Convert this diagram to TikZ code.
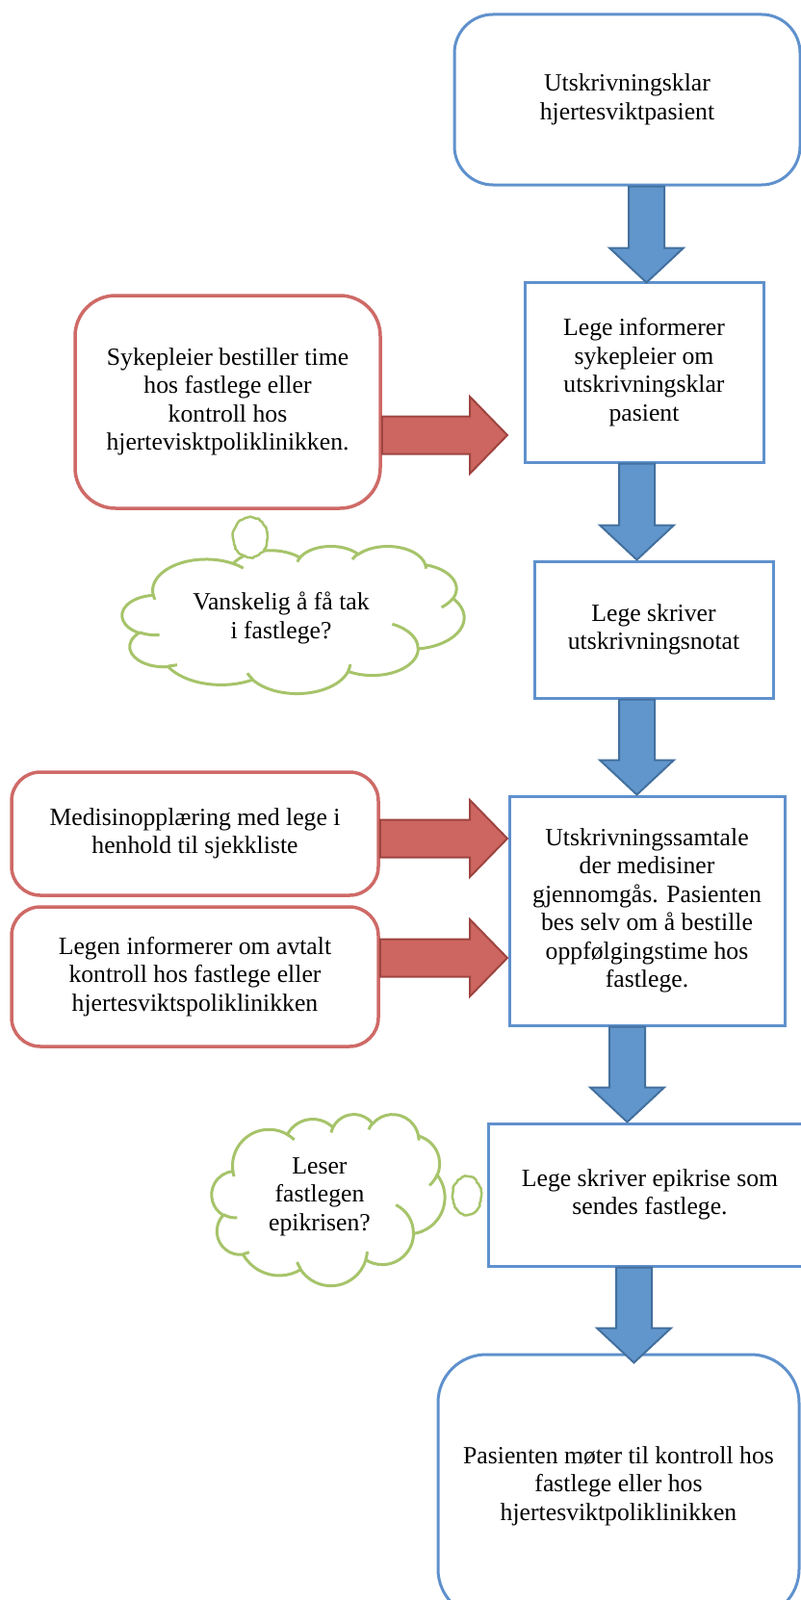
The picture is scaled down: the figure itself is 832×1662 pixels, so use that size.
\documentclass[tikz,border=0pt]{standalone}
\usepackage{fontspec}
\setmainfont{Liberation Serif}
\usetikzlibrary{calc,shapes.geometric,decorations.pathmorphing}
\definecolor{bline}{HTML}{5F91CD}
\definecolor{bfill}{HTML}{6196CC}
\definecolor{bdark}{HTML}{43709E}
\definecolor{rline}{HTML}{CE6A67}
\definecolor{rfill}{HTML}{CD6660}
\definecolor{rdark}{HTML}{9E4440}
\definecolor{gline}{HTML}{A6C46A}

% ---- Office-style cloud outline (arcs given with visual angles) ----
\newcommand\cldcalc[4]{%
  \pgfmathsetmacro\cldA{atan2((#1)*sin(#3),(#2)*cos(#3))}%
  \pgfmathsetmacro\cldB{atan2((#1)*sin((#3)+(#4)),(#2)*cos((#3)+(#4)))}%
  \pgfmathsetmacro\cldD{\cldB-\cldA}%
  \pgfmathsetmacro\cldD{\cldD-360*round((\cldD-(#4))/360)}%
}
\newcommand\cldarc[4]{\cldcalc{#1}{#2}{#3}{#4}%
  \pgfmathsetmacro\cldRX{(#1)*\csx}\pgfmathsetmacro\cldRY{(#2)*\csy}%
  \pgfmathsetmacro\cldA{0-(\cldA)}\pgfmathsetmacro\cldD{0-(\cldD)}%
  \xdef\cldtmp{ arc[start angle=\cldA, delta angle=\cldD, x radius=\cldRX pt, y radius=\cldRY pt]}}
\newcommand\cldpt[2]{\pgfmathsetmacro\cldPX{\cox+(#1)*\csx}\pgfmathsetmacro\cldPY{\coy-(#2)*\csy}%
  \xdef\cldtmp{ (\cldPX,\cldPY)}}
\newcommand\cldM[4]{\cldarc{#1}{#2}{#3}{#4}\xdef\cldpath{\cldpath\cldtmp}}
% a crease is drawn at once, as its own path
\newcommand\cldC[6]{\cldpt{#1}{#2}\let\cldstart\cldtmp\cldarc{#3}{#4}{#5}{#6}%
  \edef\cldline{\noexpand\draw[cloudline] \cldstart \cldtmp;}\cldline}
\newcommand\cldinit[4]{%
  \pgfmathsetmacro\cox{#1}\pgfmathsetmacro\coy{#2}%
  \pgfmathsetmacro\csx{(#3)/432}\pgfmathsetmacro\csy{(#4)/432}}
\newcommand\buildcloud[4]{%
  \cldinit{#1}{#2}{#3}{#4}%
  \cldpt{39}{143.7}\xdef\cldpath{\cldtmp}%
  \cldM{67.53}{91.90}{-190.48748}{123.78053}%
  \cldM{53.33}{72.67}{-144.10238}{89.94523}%
  \cldM{43.65}{59.45}{-145.80792}{99.72302}%
  \cldM{48.57}{65.95}{-130.98607}{117.24173}%
  \cldM{53.33}{72.73}{-78.70888}{109.02692}%
  \cldM{67.75}{92.20}{-46.26725}{130.269}%
  \cldM{57.85}{78.67}{0.62502}{114.03333}%
  \cldM{67.52}{92.15}{22.4516}{115.17255}%
  \cldM{77.20}{105.43}{66.24263}{75.71102}%
  \cldM{43.60}{59.18}{-274.94208}{146.73557}%
  \cldM{43.45}{59.45}{-246.8285}{152.51885}%
}
\newcommand\cloudcreases{%
  \cldC{46.93}{261.77}{43.45}{59.45}{86.742}{26.4295}%
  \cldC{69.28}{348.99}{43.60}{59.18}{73.61047}{11.44747}%
  \cldC{164.78}{390.90}{67.52}{92.15}{137.62415}{14.0811}%
  \cldC{288.27}{347.51}{67.52}{92.15}{6.45327}{15.99835}%
  \cldC{341.29}{229.54}{57.85}{78.67}{-70.29235}{70.91737}%
  \cldC{417.98}{153.54}{53.33}{72.73}{30.31803}{27.7515}%
  \cldC{383.24}{54.26}{48.57}{65.95}{-13.74433}{14.8589}%
  \cldC{290.78}{39.52}{48.57}{65.95}{-149.18145}{18.19537}%
  \cldC{221.41}{47.20}{43.65}{59.45}{-163.49427}{17.68635}%
  \cldC{140.00}{51.92}{67.53}{91.90}{-66.70695}{12.31935}%
  \cldC{41.27}{157.89}{67.53}{91.90}{157.65435}{11.85817}%
}

% ---- block arrows between named nodes ----
\newcommand\blkdown[4]{% from node, to node, axis x, tip overlap
  \coordinate (ax) at (#3,0);
  \coordinate (bs) at (ax |- #1.south);
  \coordinate (btn) at (ax |- #2.north);
  \coordinate (bt) at ($(btn)+(0,-#4)$);
  \draw[bluearrow] ($(bs)+(-18.5,0)$) -- ($(bs)+(18.5,0)$) -- ($(bt)+(18.5,36)$)
    -- ($(bt)+(38.5,36)$) -- (bt) -- ($(bt)+(-38.5,36)$) -- ($(bt)+(-18.5,36)$) -- cycle;}
\newcommand\blkright[2]{% from node, tip coordinate
  \coordinate (rs) at (#1.east |- #2);
  \draw[redarrow] ($(rs)+(0,19.5)$) -- ($(#2)+(-39,19.5)$) -- ($(#2)+(-39,40)$) -- (#2)
    -- ($(#2)+(-39,-40)$) -- ($(#2)+(-39,-19.5)$) -- ($(rs)+(0,-19.5)$) -- cycle;}

\tikzset{
  txt/.style={font=\fontsize{25.7}{29.5}\selectfont, align=center, inner sep=0pt},
  bluebox/.style={txt, draw=bline, line width=3pt, fill=white},
  redbox/.style={txt, draw=rline, line width=3.5pt, fill=white},
  bluearrow/.style={fill=bfill, draw=bdark, line width=2pt, line join=miter},
  redarrow/.style={fill=rfill, draw=rdark, line width=2pt, line join=miter},
  cloudline/.style={draw=gline, line width=3pt},
  bubble/.style={ellipse, draw=gline, line width=2.5pt, fill=white, inner sep=0pt,
    decorate, decoration={random steps, segment length=2.5pt, amplitude=0.7pt}},
}

\begin{document}
\begin{tikzpicture}[x=1pt,y=1pt]
\useasboundingbox (0,0) rectangle (832,-1662);
\clip (0,0) rectangle (832,-1662);
\fill[white] (0,0) rectangle (832,-1662);

% blue flow boxes
\node[bluebox, rounded corners=40pt, minimum width=359pt, minimum height=177pt] (b1) at (651.5,-103.5)
  {Utskrivningsklar\\hjertesviktpasient};
\node[bluebox, minimum width=248pt, minimum height=187pt] (b2) at (669,-386.5)
  {Lege informerer\\sykepleier om\\utskrivningsklar\\pasient};
\node[bluebox, minimum width=248pt, minimum height=142pt] (b3) at (679,-654)
  {Lege skriver\\utskrivningsnotat};
\node[bluebox, minimum width=286pt, minimum height=238pt] (b4) at (672,-946)
  {Utskrivningssamtale\\der medisiner\\gjennomgås. Pasienten\\bes selv om å bestille\\oppfølgingstime hos\\fastlege.};
\node[bluebox, minimum width=336pt, minimum height=148pt] (b5) at (675,-1241)
  {Lege skriver epikrise som\\sendes fastlege.};
\node[bluebox, rounded corners=50pt, minimum width=375pt, minimum height=273pt] (b6) at (642.5,-1543.5)
  {Pasienten møter til kontroll hos\\fastlege eller hos\\hjertesviktpoliklinikken};

% red side boxes
\node[redbox, rounded corners=42pt, minimum width=317pt, minimum height=221pt] (r1) at (236.5,-417.5)
  {Sykepleier bestiller time\\hos fastlege eller\\kontroll hos\\hjertevisktpoliklinikken.};
\node[redbox, rounded corners=30pt, minimum width=381pt, minimum height=128pt] (r2) at (202.5,-866)
  {Medisinopplæring med lege i\\henhold til sjekkliste};
\node[redbox, rounded corners=30pt, minimum width=381pt, minimum height=145pt] (r3) at (202.5,-1014.5)
  {Legen informerer om avtalt\\kontroll hos fastlege eller\\hjertesviktspoliklinikken};

% clouds
\buildcloud{127}{-567}{355}{153}
\draw[cloudline, fill=white] \cldpath -- cycle;
\cloudcreases
\node[txt] (c1) at (292,-642) {Vanskelig å få tak\\i fastlege?};
\node[bubble, minimum width=36pt, minimum height=42pt] (c1b) at (260,-558) {};

\buildcloud{220}{-1157}{242}{178}
\draw[cloudline, fill=white] \cldpath -- cycle;
\cloudcreases
\node[txt] (c2) at (332,-1243) {Leser\\fastlegen\\epikrisen?};
\node[bubble, minimum width=30pt, minimum height=40pt] (c2b) at (485,-1242) {};

% block arrows
\blkdown{b1}{b2}{671.5}{2}
\blkdown{b2}{b3}{661.5}{0}
\blkdown{b3}{b4}{661.5}{0}
\blkdown{b4}{b5}{651.5}{0}
\blkdown{b5}{b6}{658.5}{10}

\coordinate (t1) at (527,-452);
\coordinate (t2) at (527,-871);
\coordinate (t3) at (527,-995);
\blkright{r1}{t1}
\blkright{r2}{t2}
\blkright{r3}{t3}
\end{tikzpicture}
\end{document}
